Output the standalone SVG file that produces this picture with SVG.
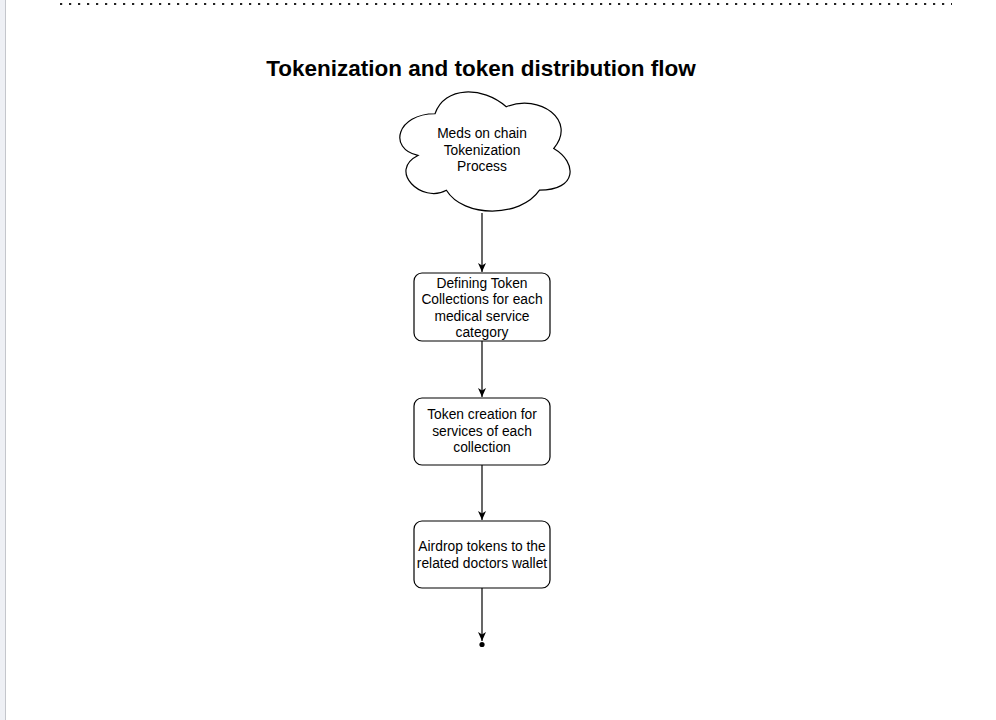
<svg xmlns="http://www.w3.org/2000/svg" width="996" height="720" viewBox="0 0 996 720">
<style>
.node{fill:#fff;stroke:#000;stroke-width:1.2}
.lbl{font-family:"Liberation Sans",Arial,sans-serif;font-size:13.8px;text-anchor:middle;fill:#000}
.edge{stroke:#000;stroke-width:1.2;fill:none}
</style>
<defs>
<marker id="arr" markerWidth="10" markerHeight="10" refX="9" refY="5" orient="auto" markerUnits="userSpaceOnUse">
<path d="M0,1 L9,5 L0,9 L2.5,5 Z" fill="#000"/>
</marker>
</defs>
<rect x="0" y="0" width="996" height="720" fill="#fff"/>
<rect x="0" y="0" width="5" height="720" fill="#eef0f5"/>
<line x1="5.5" y1="0" x2="5.5" y2="720" stroke="#c4c6cc" stroke-width="1"/>
<line x1="60" y1="4" x2="952" y2="4" stroke="#222" stroke-width="2.2" stroke-dasharray="2.2 6.8"/>
<text x="481" y="76" font-family="Liberation Sans,Arial,sans-serif" font-weight="bold" font-size="22.5" text-anchor="middle" fill="#000">Tokenization and token distribution flow</text>
<g id="connectors">
<line class="edge" x1="482" y1="213" x2="482" y2="272" marker-end="url(#arr)"/>
<line class="edge" x1="482" y1="341" x2="482" y2="397" marker-end="url(#arr)"/>
<line class="edge" x1="482" y1="465" x2="482" y2="520" marker-end="url(#arr)"/>
<line class="edge" x1="482" y1="588" x2="482" y2="641" marker-end="url(#arr)"/>
<circle cx="482" cy="644.5" r="2.6" fill="#000"/>
</g>
<g id="cloud">
<path class="node" transform="translate(387.5,79)" d="M47.5,34.75 C9.5,34.75 0,69.5 30.4,76.45 C0,91.74 34.2,125.1 58.9,111.2 C76,139 133,139 152,111.2 C190,111.2 190,83.4 166.25,69.5 C190,41.7 152,13.9 118.75,27.8 C95,6.95 57,6.95 47.5,34.75 Z"/>
<text class="lbl" x="482" y="138">Meds on chain</text>
<text class="lbl" x="482" y="155">Tokenization</text>
<text class="lbl" x="482" y="171">Process</text>
</g>
<g id="box1">
<rect class="node" x="414" y="273" width="136" height="68" rx="8"/>
<text class="lbl" x="482" y="288">Defining Token</text>
<text class="lbl" x="482" y="304">Collections for each</text>
<text class="lbl" x="482" y="321">medical service</text>
<text class="lbl" x="482" y="337">category</text>
</g>
<g id="box2">
<rect class="node" x="414" y="398" width="136" height="67" rx="8"/>
<text class="lbl" x="482" y="419">Token creation for</text>
<text class="lbl" x="482" y="436">services of each</text>
<text class="lbl" x="482" y="452">collection</text>
</g>
<g id="box3">
<rect class="node" x="414" y="521" width="136" height="67" rx="8"/>
<text class="lbl" x="482" y="551">Airdrop tokens to the</text>
<text class="lbl" x="482" y="568">related doctors wallet</text>
</g>
</svg>
